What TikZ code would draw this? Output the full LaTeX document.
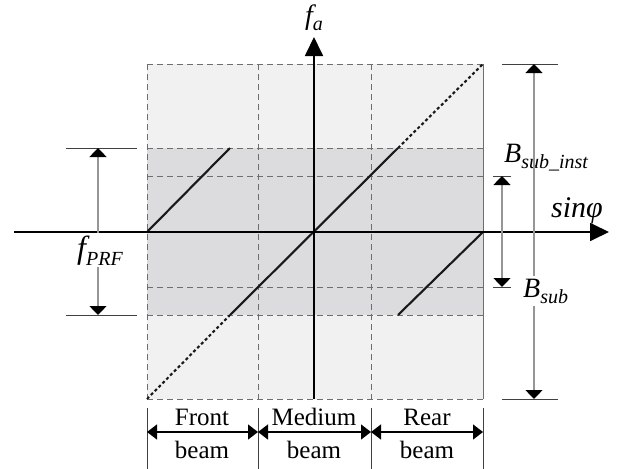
\documentclass[tikz,border=0pt]{standalone}
\usepackage{fontspec}
\setmainfont{Liberation Serif}
\usetikzlibrary{arrows.meta,positioning}
\definecolor{outerfill}{HTML}{F1F1F1}
\definecolor{bandfill}{HTML}{DCDCDE}
\definecolor{gridcolor}{HTML}{6E6E6E}
\definecolor{dimcolor}{HTML}{969696}
\newcommand{\sublabel}[2]{{\itshape #1\raisebox{-0.22em}{\fontsize{20}{20}\selectfont #2}}}

\begin{document}
\begin{tikzpicture}[x=1pt, y=-1pt,
        axis/.style={draw=black, line width=1.8pt, -{Triangle[length=19pt,width=18pt]}},
        gridline/.style={draw=gridcolor, line width=0.9pt, dash pattern=on 6pt off 4pt},
        freqline/.style={draw=black!90, line width=2.1pt},
        foldline/.style={draw=black!90, line width=2.1pt, dash pattern=on 3pt off 2.5pt},
        tickline/.style={draw=black!75, line width=0.8pt},
        dimarrow/.style={draw=dimcolor, line width=1.4pt, -{Triangle[length=9pt,width=17pt,color=black]}},
        dimboth/.style={draw=dimcolor, line width=1.4pt, {Triangle[length=9pt,width=17pt,color=black]}-{Triangle[length=9pt,width=17pt,color=black]}},
        beamarrow/.style={draw=black, line width=1.3pt, {Triangle[length=10pt,width=15pt]}-{Triangle[length=10pt,width=15pt]}},
        mathlabel/.style={font=\fontsize{28}{28}\selectfont, inner sep=2pt},
        beamlabel/.style={font=\fontsize{25}{33}\selectfont, inner sep=0pt}
    ]
        \useasboundingbox (0,0) rectangle (625,469);

        % ambiguity regions
        \fill[outerfill] (147,64) rectangle (483,399);
        \fill[bandfill] (147,148) rectangle (483,315);

        \foreach \x in {147,258,371}
            \draw[gridline] (\x,64) -- (\x,399);
        \draw[draw=gridcolor, line width=0.9pt] (483,64) -- (483,399);
        \foreach \y in {64,148,176,287,315,399}
            \draw[gridline] (147,\y) -- (483,\y);

        % folded Doppler history
        \draw[foldline] (147,399) -- (230,315);
        \draw[freqline] (230,315) -- (398,148);
        \draw[foldline] (398,148) -- (483,64);
        \draw[freqline] (147,232) -- (230,148);
        \draw[freqline] (398,315) -- (483,232);

        % axes
        \coordinate (xstart) at (14,232);
        \coordinate (xend) at (609,232);
        \coordinate (ystart) at (314,399);
        \coordinate (yend) at (314,37);
        \draw[axis] (xstart) -- (xend);
        \draw[axis] (ystart) -- (yend);
        \node[mathlabel] (falabel) at (314,18) {\sublabel{f}{a}};
        \node[mathlabel, font=\fontsize{30}{30}\selectfont, anchor=base west] (sinlabel) at (549,217) {\itshape sinφ};

        % PRF span
        \draw[tickline] (66,148) -- (137,148);
        \draw[tickline] (66,315) -- (137,315);
        \coordinate (prftop) at (98,148);
        \coordinate (prfbot) at (98,315);
        \node[mathlabel, font=\fontsize{32}{32}\selectfont, anchor=base west] (prflabel) at (75,258) {\sublabel{f}{PRF}};
        \draw[dimarrow] (prflabel.north -| prftop) -- (prftop);
        \draw[dimarrow] (prflabel.south -| prfbot) -- (prfbot);

        % instantaneous sub-band
        \draw[tickline] (493,176) -- (511,176);
        \draw[tickline] (493,287) -- (511,287);
        \coordinate (insttop) at (502,176);
        \coordinate (instbot) at (502,287);
        \draw[dimboth] (insttop) -- (instbot);
        \node[mathlabel, anchor=base west] (instlabel) at (502,162) {\sublabel{B}{sub\_inst}};

        % full sub-band
        \draw[tickline] (502,64) -- (558,64);
        \draw[tickline] (502,399) -- (558,399);
        \coordinate (subtop) at (534,64);
        \coordinate (subbot) at (534,399);
        \node[mathlabel, anchor=base west] (sublabel) at (521,297) {\sublabel{B}{sub}};
        \draw[dimarrow] (sublabel.north -| subtop) -- (subtop);
        \draw[dimarrow] (sublabel.south -| subbot) -- (subbot);

        % beams
        \foreach \i/\x in {1/147,2/258,3/371,4/483} {
            \draw[tickline] (\x,408) -- (\x,469);
            \coordinate (beamtick\i) at (\x,432);
        }
        \draw[beamarrow] (beamtick1) -- (beamtick2);
        \draw[beamarrow] (beamtick2) -- (beamtick3);
        \draw[beamarrow] (beamtick3) -- (beamtick4);
        \foreach \name/\x/\word in {front/202/Front,medium/314/Medium,rear/427/Rear} {
            \node[beamlabel, anchor=base] (\name top) at (\x,425) {\word};
            \node[beamlabel, anchor=base] (\name bottom) at (\x,458) {beam};
        }
    \end{tikzpicture}
\end{document}
